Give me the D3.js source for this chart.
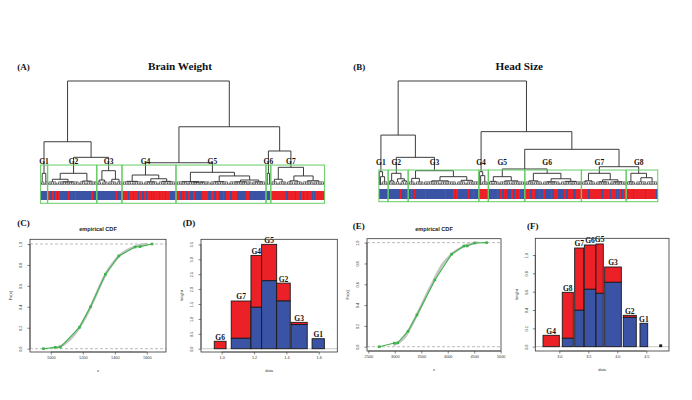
<!DOCTYPE html>
<html><head><meta charset="utf-8">
<script src="https://cdn.jsdelivr.net/npm/d3@7"></script>
<style>html,body{margin:0;padding:0;background:#fff;}svg{display:block;}</style>
</head><body>
<svg id="chart" width="692" height="400"></svg>
<script>
// ---------------- DATA ----------------
const panelLetters = ["(A)", "(B)", "(C)", "(D)", "(E)", "(F)"];
const dendroTitles = ["Brain Weight", "Head Size"];
const cdfTitle = "empirical CDF";

// Dendrogram (A) Brain Weight: node = [height, left, right]; number = bundle of leaves; string = group
const brainGroupNames = ["G1", "G2", "G3", "G4", "G5", "G6", "G7"];
const brainGroupTrees = [
  [11.25, 3, 3],
  [11.25, [5.5, 8, [3, 9, 9]], [3.8, 6, 9]],
  [13.75, [4.8, 4, 5], [5.5, 7, 5]],
  [9.6, [3.5, 8, 10], [6, [3, 6, 6], [3.5, 7, 8]]],
  [12.2, [3.2, 10, [2.8, 9, 9]], [8.7, [3.2, 8, 8], [4.8, [3, 10, 9], [3, 6, 6]]]],
  [11.25, 2, 2],
  [17, [5.5, 6, 7], [8.7, [4, 6, 7], [4.1, 9, 10]]]
];
const brainTopTree = [100, [41.6, "G1", [26.6, "G2", "G3"]], [56, [21.4, "G4", "G5"], [32.7, "G6", "G7"]]];
const brainLeafColors = [
  "BBBBBB",
  "RRBBRBRRBRBBBBBBBRBBBBBRBBBBBBBBBBBBRRBBB",
  "BBBBBBBBBBBBBBBBRBBBB",
  "RRRRRBRRRBRRRBRRRBRRBRRRBRBRRRRBRRRRBRRRBBBBB",
  "RRRBBRBRBBRRBBRRBBBBBBRRRRRBBRRRBRRRBBBRBBRRRBBRRRRBBBBBBBRRRBBBBBBBBBBBBBB",
  "BBBB",
  "RRRRRRRRRRRRRBRRRRRRBRRRBRRBRRBRRRBRBRRRRRRRR"
];
const brainBoxTop = 19.2;

// Dendrogram (B) Head Size
const headGroupNames = ["G1", "G2", "G3", "G4", "G5", "G6", "G7", "G8"];
const headGroupTrees = [
  [12.8, 1, [8, 1, 6]],
  [11.25, [4, 3, 3], [6, 4, [4, 4, 3]]],
  [13.75, [6.4, 6, 7], [8, [4, 14, 14], [4.5, 8, 11]]],
  [12.8, 1, [9, 1, 6]],
  [8, [3.5, 4, 5], [4, 10, 12]],
  [11.25, [4, 7, 8], [6, [3, 7, 8], [3.5, 9, 9]]],
  [11.25, [4, 6, 6], [5, [3, 6, 6], [3, 7, 7]]],
  [11.25, [3, 4, 4], [7, 9, 10]]
];
const headTopTree = [100, [48, "G1", [26.6, "G2", "G3"]], [51.3, "G4", [34.3, [15.4, "G5", "G6"], [17.6, "G7", "G8"]]]];
const headLeafColors = [
  "BBBBBBBB",
  "BBBBBBBBBBRBBBRBB",
  "BBRBBRBBBBBBBBRBBBBBBBBBBBBBBBBRBBBBBBRRBRBBBBBBBBBRBBBRBBBB",
  "RRRRRRRR",
  "BBBBBBBRBBRRBRBRBBBRRBBRBRRBRBB",
  "RRRRBBRRRBBBRBBRRBBBBBRBBRRRBBBBBRRBBRRRRBBRRRRR",
  "RRRRRRBRRRRRRRRRRBRRRRRRBRRRRBRBRRBRRR",
  "RRRRRRBRRRRRRRRRBRRRRRRRRBR"
];
const headBoxTop = 14.4;

// (C) empirical CDF brain weight
const brainCdfX = [954, 1027, 1060, 1179, 1248, 1341, 1425, 1527, 1558, 1633];
const brainCdfY = [0.0, 0.013, 0.015, 0.204, 0.40, 0.711, 0.886, 0.971, 0.975, 1.0];
const brainSmoothX = [1030, 1070, 1110, 1150, 1190, 1230, 1270, 1310, 1350, 1390, 1430, 1470, 1510, 1560, 1600];
const brainSmoothY = [0.01, 0.03, 0.075, 0.14, 0.23, 0.34, 0.47, 0.61, 0.73, 0.82, 0.89, 0.935, 0.965, 0.99, 1.0];
const brainCdfXTicks = [1000, 1200, 1400, 1600];
const cdfYTicks = [0, 0.2, 0.4, 0.6, 0.8, 1.0];

// (E) empirical CDF head size
const headCdfX = [2708, 2991, 3055, 3249, 3419, 3758, 4073, 4306, 4368, 4508, 4734];
const headCdfY = [0.0, 0.035, 0.038, 0.149, 0.305, 0.642, 0.89, 0.968, 0.968, 0.997, 1.0];
const headSmoothX = [3000, 3100, 3200, 3300, 3400, 3500, 3600, 3700, 3800, 3900, 4000, 4100, 4200, 4300, 4450, 4550];
const headSmoothY = [0.02, 0.05, 0.10, 0.19, 0.29, 0.39, 0.50, 0.60, 0.70, 0.79, 0.85, 0.90, 0.935, 0.965, 0.99, 1.0];
const headCdfXTicks = [2500, 3000, 3500, 4000, 4500, 5000];

// (D) stacked bars brain weight
const brainBarGroups = ["G6", "G7", "G4", "G5", "G2", "G3", "G1"];
const brainBarLeft  = [0.954, 1.059, 1.181, 1.247, 1.340, 1.429, 1.559];
const brainBarRight = [1.027, 1.181, 1.247, 1.340, 1.424, 1.529, 1.635];
const brainBarBlue  = [0.0, 0.35, 1.39, 2.28, 1.60, 0.81, 0.336];
const brainBarTotal = [0.25, 1.60, 3.13, 3.50, 2.20, 0.885, 0.336];
const brainBarXTicks = [1.0, 1.2, 1.4, 1.6];
const brainBarYTicks = [0, 0.5, 1.0, 1.5, 2.0, 2.5, 3.0, 3.5];

// (F) stacked bars head size
const headBarGroups = ["G4", "G8", "G7", "G6", "G5", "G3", "G2", "G1", ""];
const headBarLeft  = [2.719, 3.051, 3.265, 3.431, 3.632, 3.782, 4.103, 4.391, 4.731];
const headBarRight = [3.000, 3.241, 3.420, 3.627, 3.758, 4.069, 4.327, 4.524, 4.765];
const headBarBlue  = [0.0, 0.092, 0.397, 0.626, 0.582, 0.702, 0.32, 0.255, 0.02];
const headBarTotal = [0.124, 0.593, 1.076, 1.109, 1.12, 0.869, 0.342, 0.255, 0.02];
const headBarXTicks = [3.0, 3.5, 4.0, 4.5];
const headBarYTicks = [0, 0.2, 0.4, 0.6, 0.8, 1.0];

// ---------------- STYLE ----------------
const RED = "#ec2027", BLUE = "#3b53a4", GREEN_BOX = "#66cc66";
const SERIF = "'Liberation Serif','Times New Roman',serif";
const SANS = "'Liberation Sans',Arial,sans-serif";
const svg = d3.select("#chart");

// ---------------- DENDROGRAMS ----------------
function drawDendro(cfg) {
  const g = svg.append("g");
  const names = cfg.names, trees = cfg.trees;
  function cnt(n) {
    if (typeof n === "number") return n;
    if (typeof n === "string") return cnt(trees[names.indexOf(n)]);
    return cnt(n[1]) + cnt(n[2]);
  }
  const N = cnt(cfg.top);
  const x = d3.scaleLinear().domain([0, N - 1]).range(cfg.leafRange);
  const y = d3.scaleLinear().domain([0, 100]).range([cfg.base, cfg.rootY]);
  const segs = [], fine = [], groups = [];
  const H1 = 1.3, HB = 3.0;
  let cur = 0;
  function lay(n) {
    if (typeof n === "string") {
      const s = cur;
      const r = lay(trees[names.indexOf(n)]);
      groups.push({ name: n, s: s, e: cur - 1, x: r.x });
      return r;
    }
    if (typeof n === "number") {
      const s = cur; cur += n;
      if (n === 1) return { x: x(s), h: 0 };
      const pts = [];
      for (let k = s; k < s + n; k += 2) {
        if (k + 1 < s + n) {
          fine.push([x(k), 0, x(k), H1], [x(k + 1), 0, x(k + 1), H1], [x(k), H1, x(k + 1), H1]);
          pts.push({ x: (x(k) + x(k + 1)) / 2, h: H1 });
        } else pts.push({ x: x(k), h: 0 });
      }
      if (pts.length === 1) return pts[0];
      pts.forEach(p => fine.push([p.x, p.h, p.x, HB]));
      fine.push([pts[0].x, HB, pts[pts.length - 1].x, HB]);
      return { x: (x(s) + x(s + n - 1)) / 2, h: HB };
    }
    const h = n[0];
    const ra = lay(n[1]), rb = lay(n[2]);
    segs.push([ra.x, ra.h, ra.x, h], [rb.x, rb.h, rb.x, h], [ra.x, h, rb.x, h]);
    return { x: (ra.x + rb.x) / 2, h: h };
  }
  lay(cfg.top);

  // colour bar
  const cols = cfg.colors.join("").split("");
  const xb = d3.scaleLinear().domain([0, cols.length]).range([x(-0.5), x(N - 0.5)]);
  g.append("g").attr("shape-rendering", "crispEdges").selectAll("rect").data(cols).join("rect")
    .attr("x", (d, i) => xb(i)).attr("width", xb(1) - xb(0) + 0.4)
    .attr("y", cfg.barY[0]).attr("height", cfg.barY[1] - cfg.barY[0])
    .attr("fill", d => d === "R" ? RED : BLUE);

  g.append("g").selectAll("line").data(fine).join("line")
    .attr("x1", d => d[0]).attr("y1", d => y(d[1])).attr("x2", d => d[2]).attr("y2", d => y(d[3]))
    .attr("stroke", "#222").attr("stroke-width", 0.6);
  g.append("g").selectAll("line").data(segs).join("line")
    .attr("x1", d => d[0]).attr("y1", d => y(d[1])).attr("x2", d => d[2]).attr("y2", d => y(d[3]))
    .attr("stroke", "#333").attr("stroke-width", 0.95);

  // group boxes
  g.append("g").selectAll("rect").data(groups).join("rect")
    .attr("x", d => x(d.s - 0.34)).attr("width", d => x(d.e + 0.33) - x(d.s - 0.34))
    .attr("y", y(cfg.boxTop)).attr("height", cfg.boxBottom - y(cfg.boxTop))
    .attr("fill", "none").attr("stroke", GREEN_BOX).attr("stroke-width", 1);
  g.append("g").selectAll("text").data(groups).join("text")
    .attr("x", d => d.x).attr("y", cfg.labelY).attr("text-anchor", "middle")
    .attr("font-family", SERIF).attr("font-weight", "bold").attr("font-size", 7.5).attr("fill", "#111")
    .text(d => d.name);

  svg.append("text").attr("x", cfg.titleX).attr("y", 69.5).attr("text-anchor", "middle")
    .attr("font-family", SERIF).attr("font-weight", "bold").attr("font-size", 11.2).attr("fill", "#111")
    .text(cfg.title);
  svg.append("text").attr("x", cfg.letterX).attr("y", 69.5)
    .attr("font-family", SERIF).attr("font-weight", "bold").attr("font-size", 9).attr("fill", "#111")
    .text(cfg.letter);
}

drawDendro({ names: brainGroupNames, trees: brainGroupTrees, top: brainTopTree, colors: brainLeafColors,
  leafRange: [41.0, 324.2], base: 185, rootY: 81, barY: [190.7, 200], boxTop: brainBoxTop, boxBottom: 203.3,
  labelY: 163.8, title: dendroTitles[0], titleX: 180, letter: panelLetters[0], letterX: 17.3 });
drawDendro({ names: headGroupNames, trees: headGroupTrees, top: headTopTree, colors: headLeafColors,
  leafRange: [379.3, 657.4], base: 185, rootY: 81, barY: [189.3, 198.5], boxTop: headBoxTop, boxBottom: 201.7,
  labelY: 165, title: dendroTitles[1], titleX: 519.3, letter: panelLetters[1], letterX: 353.3 });

// ---------------- AXES HELPERS ----------------
function frame(cfg) {
  const [bx0, by0, bx1, by1] = cfg.box;
  const x = d3.scaleLinear().domain(cfg.xDomain).range([bx0, bx1]);
  const y = d3.scaleLinear().domain(cfg.yDomain).range([by1, by0]);
  const g = svg.append("g");
  const axX = d3.axisBottom(x).tickValues(cfg.xTicks).tickSize(2.5).tickPadding(2.2).tickFormat(cfg.xFmt);
  const gx = g.append("g").attr("transform", `translate(0,${by1})`).call(axX);
  gx.select(".domain").attr("d", `M${x(cfg.xTicks[0])},0H${x(cfg.xTicks[cfg.xTicks.length - 1])}`);
  gx.selectAll("line").attr("stroke", "#333").attr("stroke-width", 0.6);
  gx.select(".domain").attr("stroke", "#333").attr("stroke-width", 0.6);
  gx.selectAll("text").attr("font-family", SANS).attr("font-size", 3.8).attr("fill", "#333");
  const axY = d3.axisLeft(y).tickValues(cfg.yTicks).tickSize(2.5).tickPadding(0).tickFormat(cfg.yFmt);
  const gy = g.append("g").attr("transform", `translate(${bx0},0)`).call(axY);
  gy.select(".domain").attr("d", `M0,${y(cfg.yTicks[0])}V${y(cfg.yTicks[cfg.yTicks.length - 1])}`)
    .attr("stroke", "#333").attr("stroke-width", 0.6);
  gy.selectAll("line").attr("stroke", "#333").attr("stroke-width", 0.6);
  gy.selectAll(".tick text").attr("font-family", SANS).attr("font-size", 3.8).attr("fill", "#333")
    .attr("x", null).attr("dy", null).attr("text-anchor", "middle")
    .attr("transform", "translate(-7.6,0) rotate(-90)");
  svg.append("text").attr("transform", `translate(${bx0 - 17.8},${(by0 + by1) / 2}) rotate(-90)`)
    .attr("text-anchor", "middle").attr("font-family", SANS).attr("font-size", 4).attr("fill", "#333").text(cfg.ylab);
  svg.append("text").attr("x", (bx0 + bx1) / 2).attr("y", by1 + 20).attr("text-anchor", "middle")
    .attr("font-family", SANS).attr("font-size", 4).attr("fill", "#333").text(cfg.xlab);
  svg.append("text").attr("x", cfg.letterPos[0]).attr("y", cfg.letterPos[1])
    .attr("font-family", SERIF).attr("font-weight", "bold").attr("font-size", 9).attr("fill", "#111").text(cfg.letter);
  return { x, y, g, box: cfg.box };
}
function boxOutline(f) {
  const [bx0, by0, bx1, by1] = f.box;
  svg.append("rect").attr("x", bx0).attr("y", by0).attr("width", bx1 - bx0).attr("height", by1 - by0)
    .attr("fill", "none").attr("stroke", "#333").attr("stroke-width", 0.8);
}

function drawCdf(cfg) {
  const f = frame(cfg);
  const [bx0, by0, bx1, by1] = cfg.box;
  [0, 1].forEach(v => svg.append("line").attr("x1", bx0).attr("x2", bx1).attr("y1", f.y(v)).attr("y2", f.y(v))
    .attr("stroke", "#aaa").attr("stroke-width", 0.8).attr("stroke-dasharray", "3,2"));
  const sm = cfg.sx.map((v, i) => [v, cfg.sy[i]]);
  svg.append("path").attr("d", d3.line().curve(d3.curveMonotoneX).x(d => f.x(d[0])).y(d => f.y(d[1]))(sm))
    .attr("fill", "none").attr("stroke", "#c4c4c4").attr("stroke-width", 2.6).attr("stroke-linecap", "round");
  const pts = cfg.px.map((v, i) => [v, cfg.py[i]]);
  svg.append("path").attr("d", d3.line().x(d => f.x(d[0])).y(d => f.y(d[1]))(pts))
    .attr("fill", "none").attr("stroke", "#3cb44a").attr("stroke-width", 1.1);
  svg.append("g").selectAll("rect").data(pts).join("rect")
    .attr("x", d => f.x(d[0]) - 1.3).attr("y", d => f.y(d[1]) - 1.3).attr("width", 2.6).attr("height", 2.6)
    .attr("fill", "#3cb44a");
  boxOutline(f);
  svg.append("text").attr("x", (bx0 + bx1) / 2).attr("y", 231).attr("text-anchor", "middle")
    .attr("font-family", SANS).attr("font-weight", "bold").attr("font-size", 5.6).attr("fill", "#222").text(cdfTitle);
}

function drawBars(cfg) {
  const f = frame(cfg);
  const [bx0, by0, bx1, by1] = cfg.box;
  svg.append("line").attr("x1", bx0).attr("x2", bx1).attr("y1", f.y(0)).attr("y2", f.y(0))
    .attr("stroke", "#c8c8c8").attr("stroke-width", 1);
  const bars = cfg.groups.map((gname, i) => ({ g: gname, l: cfg.left[i], r: cfg.right[i], b: cfg.blue[i], t: cfg.total[i] }));
  const bg = svg.append("g");
  bars.forEach(d => {
    if (d.t > d.b) bg.append("rect").attr("x", f.x(d.l)).attr("width", f.x(d.r) - f.x(d.l))
      .attr("y", f.y(d.t)).attr("height", f.y(d.b) - f.y(d.t)).attr("fill", RED)
      .attr("stroke", "#1a1a1a").attr("stroke-width", 0.9);
    if (d.b > 0) bg.append("rect").attr("x", f.x(d.l)).attr("width", f.x(d.r) - f.x(d.l))
      .attr("y", f.y(d.b)).attr("height", f.y(0) - f.y(d.b)).attr("fill", d.g ? BLUE : "#111")
      .attr("stroke", "#1a1a1a").attr("stroke-width", 0.9);
  });
  svg.append("g").selectAll("text").data(bars.filter(d => d.g)).join("text")
    .attr("x", d => (f.x(d.l) + f.x(d.r)) / 2).attr("y", d => f.y(d.t) - 1.6).attr("text-anchor", "middle")
    .attr("font-family", SERIF).attr("font-weight", "bold").attr("font-size", 7.5).attr("fill", "#111")
    .text(d => d.g);
  boxOutline(f);
}

const f1 = d3.format(".1f");
drawCdf({ box: [30, 239.3, 166, 352], xDomain: [870, 1720], yDomain: [-0.0315, 1.045],
  xTicks: brainCdfXTicks, yTicks: cdfYTicks, xFmt: d3.format("d"), yFmt: f1,
  px: brainCdfX, py: brainCdfY, sx: brainSmoothX, sy: brainSmoothY,
  ylab: "Fn(x)", xlab: "x", letter: panelLetters[2], letterPos: [17.3, 225.5] });
drawBars({ box: [201, 239.3, 337.3, 352], xDomain: [0.872, 1.715], yDomain: [-0.11, 3.67],
  xTicks: brainBarXTicks, yTicks: brainBarYTicks, xFmt: f1, yFmt: f1,
  groups: brainBarGroups, left: brainBarLeft, right: brainBarRight, blue: brainBarBlue, total: brainBarTotal,
  ylab: "height", xlab: "data", letter: panelLetters[3], letterPos: [182.7, 225.5] });
drawCdf({ box: [367, 238.7, 501, 351], xDomain: [2475, 5006], yDomain: [-0.041, 1.038],
  xTicks: headCdfXTicks, yTicks: cdfYTicks, xFmt: d3.format("d"), yFmt: f1,
  px: headCdfX, py: headCdfY, sx: headSmoothX, sy: headSmoothY,
  ylab: "Fn(x)", xlab: "x", letter: panelLetters[4], letterPos: [352.7, 228.5] });
drawBars({ box: [535.3, 238.3, 669, 351], xDomain: [2.586, 4.891], yDomain: [-0.047, 1.182],
  xTicks: headBarXTicks, yTicks: headBarYTicks, xFmt: f1, yFmt: f1,
  groups: headBarGroups, left: headBarLeft, right: headBarRight, blue: headBarBlue, total: headBarTotal,
  ylab: "height", xlab: "data", letter: panelLetters[5], letterPos: [527, 228.5] });
</script>
</body></html>
